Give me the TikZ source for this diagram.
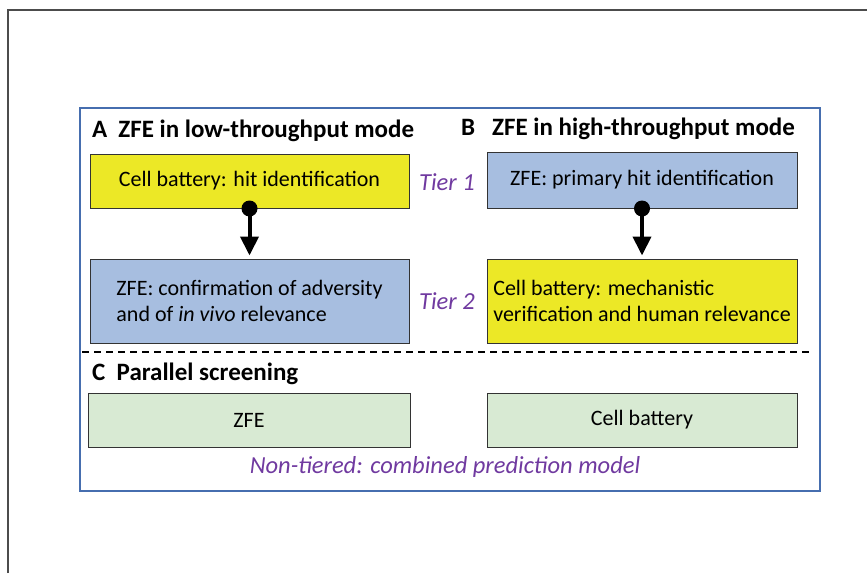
\documentclass[tikz,border=0pt]{standalone}
\usepackage{fontspec}
\setmainfont{Carlito}
\usepackage{xcolor}
\usetikzlibrary{
    arrows.meta,
    calc,
    positioning
}
\definecolor{boxyellow}{RGB}{236,232,38}
\definecolor{boxblue}{RGB}{167,190,224}
\definecolor{boxgreen}{RGB}{216,234,211}
\definecolor{tierpurple}{RGB}{112,58,160}
\definecolor{framblue}{RGB}{70,110,175}
\tikzset{stage/.style={draw=black!80, line width=1pt, minimum height=54pt, align=left, font=\fontsize{22}{26}\selectfont, inner sep=0pt}}
\tikzset{ybox/.style={stage, fill=boxyellow}}
\tikzset{bbox/.style={stage, fill=boxblue}}
\tikzset{gbox/.style={stage, fill=boxgreen}}
\tikzset{head/.style={font=\bfseries\fontsize{25}{28}\selectfont, anchor=west, inner sep=0pt}}
\tikzset{tier/.style={font=\itshape\fontsize{24.5}{28}\selectfont, text=tierpurple, inner sep=0pt}}
\tikzset{link/.style={line width=4pt, -{Triangle[length=19pt, width=18pt]}, shorten >=3pt}}

\begin{document}
\begin{tikzpicture}[x=1pt, y=-1pt]
                        \useasboundingbox (0, 0) rectangle (867, 573);
                        \draw[black!70, line width=1.5pt] (8, 573) -- (8, 10) -- (867, 10);
                        \draw[framblue, line width=1.2pt] (80, 108) rectangle (820, 491);

                        \node[head] (ta) at (92, 131) {A\hspace{11pt}ZFE in low-throughput mode};
                        \node[head] (tb) at (461, 129) {B\ \ \ ZFE in high-throughput mode};

                        \node[ybox, minimum width=319pt] (a1) at (249.5, 181) {Cell battery: hit identification};
                        \node[bbox, minimum width=319pt, minimum height=84pt] (a2) at (249.5, 301) {ZFE: confirmation of adversity\\and of \emph{in vivo} relevance};
                        \node[bbox, minimum width=310pt, minimum height=56pt] (b1) at (642, 180) {ZFE: primary hit identification};
                        \node[ybox, minimum width=310pt, minimum height=84pt] (b2) at (642, 301) {Cell battery: mechanistic\\verification and human relevance};

                        \node[tier] (t1) at (447, 182) {Tier 1};
                        \node[tier] (t2) at (447, 301) {Tier 2};

                        \fill (a1.south) circle (8);
                        \fill (b1.south) circle (8);
                        \draw[link] (a1.south) -- (a2.north);
                        \draw[link] (b1.south) -- (b2.north);

                        \draw[dashed, line width=1.5pt, dash pattern=on 7pt off 5pt] (82, 352) -- (810, 352);

                        \node[head] (tc) at (92, 374) {C\ \ Parallel screening};
                        \node[gbox, minimum width=322pt] (c1) at (249, 420) {ZFE};
                        \node[gbox, minimum width=310pt] (c2) at (642, 420) {Cell battery};
                        \node[tier] (nt) at (445, 467) {Non-tiered: combined prediction model};
                    \end{tikzpicture}
\end{document}
